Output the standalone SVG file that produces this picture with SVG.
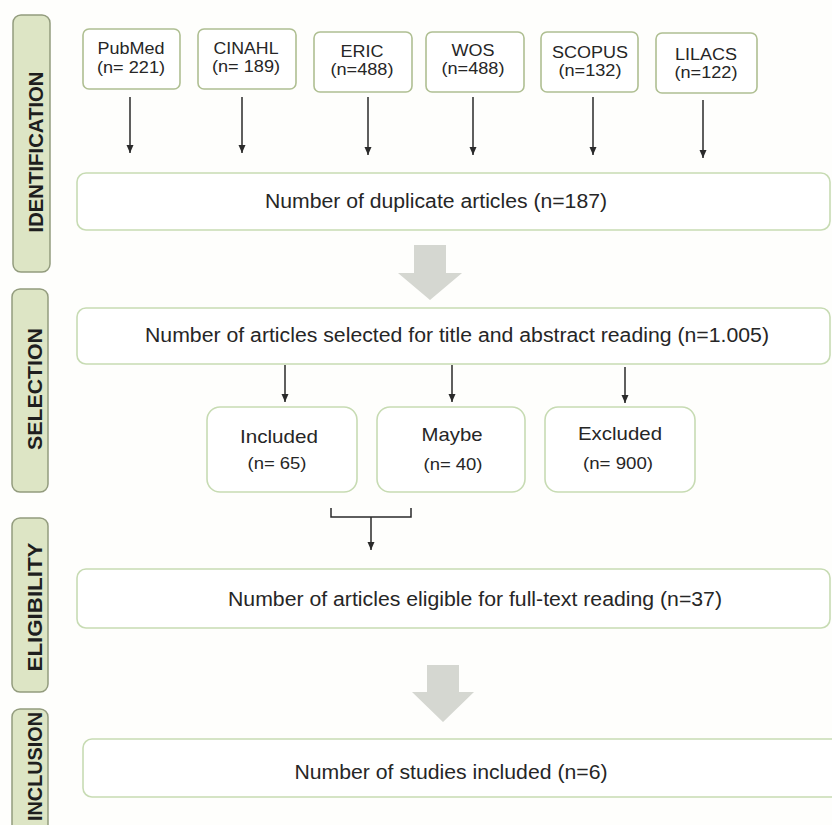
<svg xmlns="http://www.w3.org/2000/svg" width="832" height="825" viewBox="0 0 832 825">
<style>
.lbl{fill:#dde5c5;stroke:#939c7e;stroke-width:1.5}
.lt{font-family:"Liberation Sans",Arial,sans-serif;font-weight:bold;font-size:21px;fill:#1e1e1e;text-anchor:middle}
.src{fill:#ffffff;stroke:#afbf92;stroke-width:1.6}
.box{fill:#ffffff;stroke:#c7dbb3;stroke-width:1.6}
.t{font-family:"Liberation Sans",Arial,sans-serif;fill:#262626;text-anchor:middle}
.ts{font-size:16.8px}
.tm{font-size:19.5px}
.tb{font-size:19px}
.tn{font-size:17px}
.ln{stroke:#2a2a2a;stroke-width:1.5;fill:none}
.big{fill:#d5d7d1}
</style>
<defs>
<marker id="ah" viewBox="0 0 8 8" refX="8" refY="4" markerWidth="8" markerHeight="8" orient="auto" markerUnits="userSpaceOnUse"><path d="M0,0.5 L8,4 L0,7.5 z" fill="#2a2a2a"/></marker>
</defs>
<rect width="832" height="825" fill="#fefefc"/>

<g id="label-identification"><rect class="lbl" x="13" y="15" width="37" height="257" rx="8"/><text class="lt" transform="translate(43,152) rotate(-90)" textLength="161" lengthAdjust="spacingAndGlyphs">IDENTIFICATION</text></g>
<g id="label-selection"><rect class="lbl" x="12" y="289" width="36" height="203" rx="8"/><text class="lt" transform="translate(42,389) rotate(-90)" textLength="122" lengthAdjust="spacingAndGlyphs">SELECTION</text></g>
<g id="label-eligibility"><rect class="lbl" x="12" y="518" width="36" height="174" rx="8"/><text class="lt" transform="translate(42,607) rotate(-90)" textLength="129" lengthAdjust="spacingAndGlyphs">ELIGIBILITY</text></g>
<g id="label-inclusion"><rect class="lbl" x="12" y="709" width="36" height="140" rx="8"/><text class="lt" transform="translate(42,712) rotate(-90)" style="text-anchor:end" textLength="109" lengthAdjust="spacingAndGlyphs">INCLUSION</text></g>

<g id="pubmed"><rect class="src" x="83" y="29" width="97" height="60" rx="6"/><text class="t ts" x="131" y="54" textLength="67" lengthAdjust="spacingAndGlyphs">PubMed</text><text class="t ts" x="131" y="73" textLength="68" lengthAdjust="spacingAndGlyphs">(n= 221)</text></g>
<g id="cinahl"><rect class="src" x="198" y="29" width="98" height="60" rx="6"/><text class="t ts" x="246" y="54" textLength="65" lengthAdjust="spacingAndGlyphs">CINAHL</text><text class="t ts" x="246" y="72" textLength="68" lengthAdjust="spacingAndGlyphs">(n= 189)</text></g>
<g id="eric"><rect class="src" x="314" y="32" width="98" height="60" rx="6"/><text class="t ts" x="362" y="57" textLength="43" lengthAdjust="spacingAndGlyphs">ERIC</text><text class="t ts" x="362" y="75" textLength="63" lengthAdjust="spacingAndGlyphs">(n=488)</text></g>
<g id="wos"><rect class="src" x="426" y="32" width="98" height="60" rx="6"/><text class="t ts" x="473" y="56" textLength="43" lengthAdjust="spacingAndGlyphs">WOS</text><text class="t ts" x="473" y="74" textLength="63" lengthAdjust="spacingAndGlyphs">(n=488)</text></g>
<g id="scopus"><rect class="src" x="541" y="32" width="97" height="60" rx="6"/><text class="t ts" x="590" y="58" textLength="76" lengthAdjust="spacingAndGlyphs">SCOPUS</text><text class="t ts" x="590" y="76" textLength="63" lengthAdjust="spacingAndGlyphs">(n=132)</text></g>
<g id="lilacs"><rect class="src" x="656" y="33" width="101" height="60" rx="6"/><text class="t ts" x="706" y="60" textLength="62" lengthAdjust="spacingAndGlyphs">LILACS</text><text class="t ts" x="706" y="78" textLength="63" lengthAdjust="spacingAndGlyphs">(n=122)</text></g>

<g id="duplicates"><rect class="box" x="77" y="173" width="753" height="57" rx="9"/><text class="t tm" x="436" y="208" textLength="342" lengthAdjust="spacingAndGlyphs">Number of duplicate articles (n=187)</text></g>
<g id="selected"><rect class="box" x="77" y="308" width="753" height="56" rx="9"/><text class="t tm" x="457" y="342" textLength="624" lengthAdjust="spacingAndGlyphs">Number of articles selected for title and abstract reading (n=1.005)</text></g>
<g id="included"><rect class="box" x="207" y="407" width="150" height="85" rx="13"/><text class="t tb" x="279" y="443" textLength="78" lengthAdjust="spacingAndGlyphs">Included</text><text class="t tn" x="277" y="469" textLength="59" lengthAdjust="spacingAndGlyphs">(n= 65)</text></g>
<g id="maybe"><rect class="box" x="377" y="407" width="148" height="85" rx="13"/><text class="t tb" x="452" y="441" textLength="61" lengthAdjust="spacingAndGlyphs">Maybe</text><text class="t tn" x="453" y="470" textLength="59" lengthAdjust="spacingAndGlyphs">(n= 40)</text></g>
<g id="excluded"><rect class="box" x="545" y="407" width="150" height="85" rx="13"/><text class="t tb" x="620" y="440" textLength="84" lengthAdjust="spacingAndGlyphs">Excluded</text><text class="t tn" x="618" y="469" textLength="70" lengthAdjust="spacingAndGlyphs">(n= 900)</text></g>
<g id="eligible"><rect class="box" x="77" y="569" width="753" height="59" rx="9"/><text class="t tm" x="475" y="606" textLength="494" lengthAdjust="spacingAndGlyphs">Number of articles eligible for full-text reading (n=37)</text></g>
<g id="studies"><rect class="box" x="83" y="739" width="760" height="58" rx="9"/><text class="t tm" x="451" y="779" textLength="313" lengthAdjust="spacingAndGlyphs">Number of studies included (n=6)</text></g>

<g id="connectors">
<line class="ln" x1="130" y1="97" x2="130" y2="153" marker-end="url(#ah)"/>
<line class="ln" x1="242" y1="97" x2="242" y2="153" marker-end="url(#ah)"/>
<line class="ln" x1="368" y1="97" x2="368" y2="155" marker-end="url(#ah)"/>
<line class="ln" x1="473" y1="97" x2="473" y2="155" marker-end="url(#ah)"/>
<line class="ln" x1="593" y1="97" x2="593" y2="155" marker-end="url(#ah)"/>
<line class="ln" x1="703" y1="100" x2="703" y2="158" marker-end="url(#ah)"/>
<path class="big" d="M414,245 H446 V273 H462 L430,300 L398,273 H414 Z"/>
<line class="ln" x1="285" y1="365" x2="285" y2="402" marker-end="url(#ah)"/>
<line class="ln" x1="452" y1="365" x2="452" y2="402" marker-end="url(#ah)"/>
<line class="ln" x1="625" y1="367" x2="625" y2="403" marker-end="url(#ah)"/>
<path class="ln" d="M331,508 V517 H411 V508"/>
<line class="ln" x1="371" y1="517" x2="371" y2="550" marker-end="url(#ah)"/>
<path class="big" d="M427,665 H459 V692 H474 L443,722 L412,692 H427 Z"/>
</g>
</svg>
